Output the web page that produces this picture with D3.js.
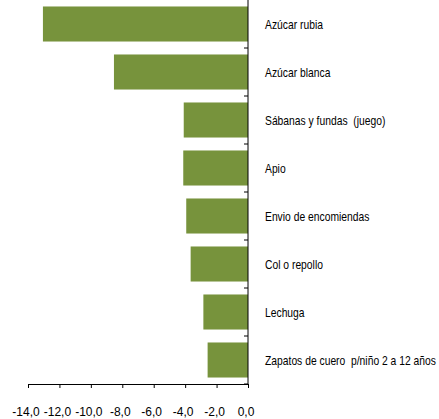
<!DOCTYPE html>
<html lang="es">
<head>
<meta charset="UTF-8">
<title>Variaciones</title>
<style>
  body { margin: 0; background: #fff; }
  svg text { font-family: "Liberation Sans", Arial, sans-serif; fill: #000; white-space: pre; }
</style>
<script src="https://cdn.jsdelivr.net/npm/d3@7"></script>
</head>
<body>
<script>
// categorías (de arriba a abajo)
var categories = [
  "Azúcar rubia",
  "Azúcar blanca",
  "Sábanas y fundas  (juego)",
  "Apio",
  "Envio de encomiendas",
  "Col o repollo",
  "Lechuga",
  "Zapatos de cuero  p/niño 2 a 12 años"
];
// variación (%)
var values = [-13.05, -8.53, -4.09, -4.12, -3.93, -3.65, -2.84, -2.57];
// etiquetas del eje x
var xTicks = [-14, -12, -10, -8, -6, -4, -2, 0];

var width = 439, height = 419;
var x0 = 28, x1 = 248, plotTop = 0, plotBottom = 384;

var svg = d3.select("body").append("svg")
  .attr("width", width)
  .attr("height", height);

var x = d3.scaleLinear().domain([-14, 0]).range([x0, x1]);
var y = d3.scaleBand().domain(categories)
  .range([plotTop, plotBottom])
  .paddingInner(0.27)
  .paddingOuter(0.135);

// barras
svg.selectAll("rect.bar")
  .data(values)
  .enter()
  .append("rect")
  .attr("class", "bar")
  .attr("x", function(d) { return x(d); })
  .attr("y", function(d, i) { return y(categories[i]); })
  .attr("width", function(d) { return x(0) - x(d); })
  .attr("height", y.bandwidth())
  .attr("fill", "#77933C");

// eje x
var fmt = function(d) { return d3.format(".1f")(d).replace("−", "-").replace(".", ","); };
var xAxis = svg.append("g")
  .attr("transform", "translate(0," + plotBottom + ")")
  .call(d3.axisBottom(x).tickValues(xTicks).tickFormat(fmt).tickSize(4).tickPadding(19).tickSizeOuter(0));
xAxis.select(".domain").attr("stroke", "#000");
xAxis.selectAll(".tick line").attr("stroke", "#000");
xAxis.selectAll(".tick text")
  .attr("font-size", "12px")
  .attr("dx", "-2.5")
  .style("font-family", "'Liberation Sans', Arial, sans-serif");

// eje y (línea en 0)
svg.append("line")
  .attr("x1", x(0)).attr("x2", x(0))
  .attr("y1", plotTop).attr("y2", plotBottom)
  .attr("stroke", "#000");

// marcas entre categorías
var step = y.step();
svg.selectAll("line.ytick")
  .data(categories)
  .enter()
  .append("line")
  .attr("class", "ytick")
  .attr("x1", x(0) - 4).attr("x2", x(0))
  .attr("y1", function(d) { return y(d) + y.bandwidth() + (step - y.bandwidth()) / 2; })
  .attr("y2", function(d) { return y(d) + y.bandwidth() + (step - y.bandwidth()) / 2; })
  .attr("stroke", "#000");

// etiquetas de categorías
svg.selectAll("text.cat")
  .data(categories)
  .enter()
  .append("text")
  .attr("class", "cat")
  .attr("font-size", "12px")
  .attr("dy", "0.35em")
  .attr("transform", function(d) {
    return "translate(265," + (y(d) + y.bandwidth() / 2 + 0.5) + ") scale(0.86,1)";
  })
  .text(function(d) { return d; });
</script>
</body>
</html>
